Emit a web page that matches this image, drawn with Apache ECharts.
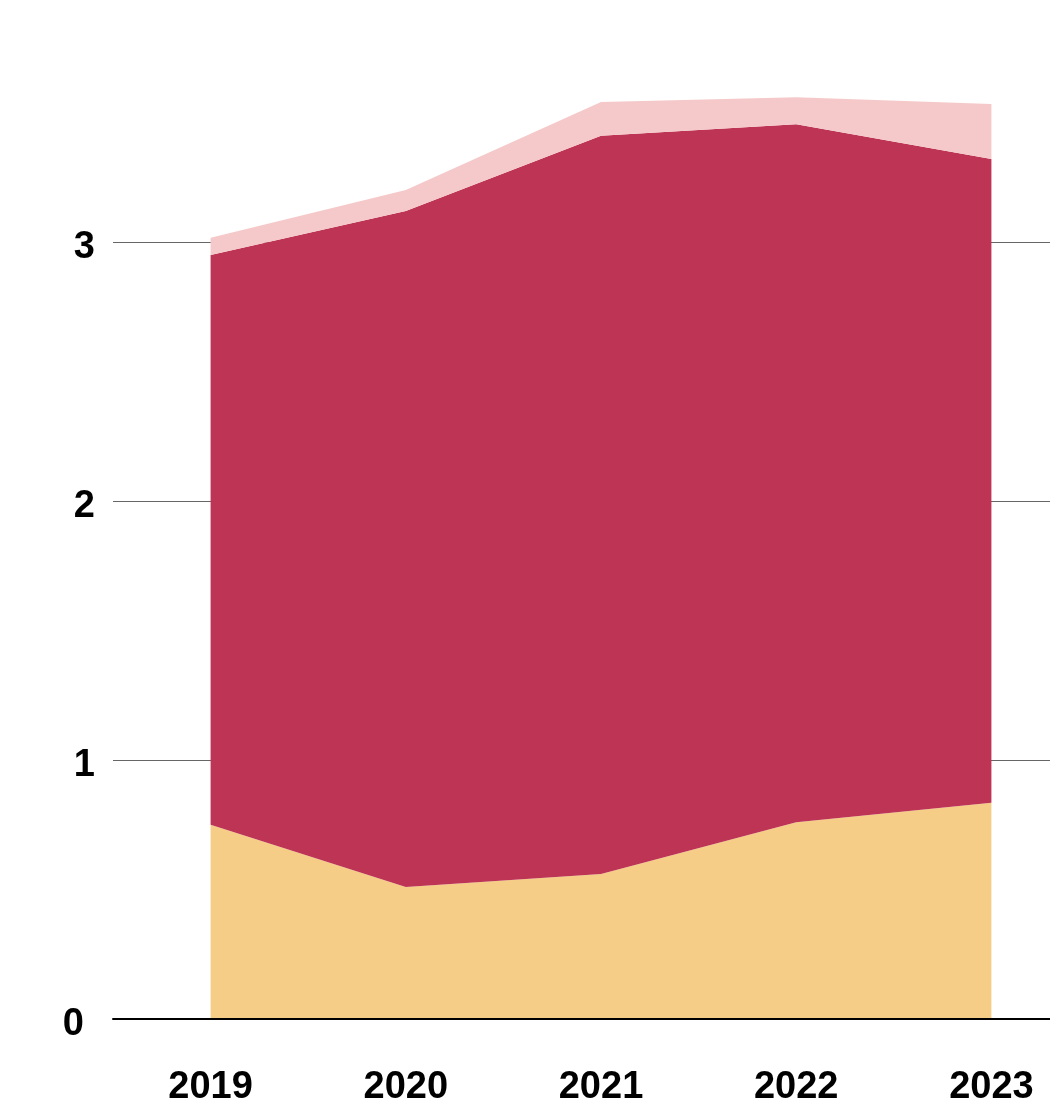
<!DOCTYPE html>
<html>
<head>
<meta charset="utf-8">
<script src="https://cdn.jsdelivr.net/npm/echarts@6/dist/echarts.min.js"></script>
<style>
html,body{margin:0;padding:0;background:#fff;width:1050px;height:1103px;overflow:hidden;position:relative;}
#chart{position:absolute;left:0;top:-17px;width:1089px;height:1124px;}
</style>
</head>
<body>
<div id="chart"></div>
<script>
const years = ['2019', '2020', '2021', '2022', '2023'];
const yellowValues = [0.75, 0.51, 0.56, 0.76, 0.835];
const redValues = [2.20, 2.61, 2.85, 2.695, 2.485];
const pinkValues = [0.066, 0.081, 0.131, 0.104, 0.213];

const chart = echarts.init(document.getElementById('chart'), null, {renderer: 'canvas'});

function areaSeries(name, vals, color) {
  return {
    name: name,
    type: 'line',
    stack: 'total',
    data: vals,
    symbol: 'none',
    showSymbol: false,
    lineStyle: {width: 0, color: color},
    areaStyle: {color: color, opacity: 1},
    itemStyle: {color: color},
    emphasis: {disabled: true},
    silent: true,
    z: 2
  };
}

chart.setOption({
  animation: false,
  backgroundColor: '#ffffff',
  grid: {left: 113, right: 0, top: 0, bottom: 85, containLabel: false},
  xAxis: {
    type: 'category',
    data: years,
    boundaryGap: true,
    axisLine: {show: true, onZero: false, lineStyle: {color: '#000', width: 2}},
    axisTick: {show: false},
    splitLine: {show: false},
    axisLabel: {
      margin: 50,
      color: '#000',
      fontFamily: 'Liberation Sans',
      fontWeight: 'bold',
      fontSize: 38
    },
    z: 5
  },
  yAxis: {
    type: 'value',
    min: 0,
    max: 4,
    interval: 1,
    axisLine: {show: false},
    axisTick: {show: false},
    splitLine: {show: true, lineStyle: {color: '#666', width: 1}},
    axisLabel: {
      margin: 18,
      color: '#000',
      fontFamily: 'Liberation Sans',
      fontWeight: 'bold',
      fontSize: 38,
      formatter: v => v === 0 ? '{z|0}' : (v > 3 ? '' : '{n|' + v + '}'),
      rich: {
        z: {
          padding: [12, 11, 0, 0],
          color: '#000',
          fontFamily: 'Liberation Sans',
          fontWeight: 'bold',
          fontSize: 38
        },
        n: {
          padding: [12, 0, 0, 0],
          color: '#000',
          fontFamily: 'Liberation Sans',
          fontWeight: 'bold',
          fontSize: 38
        }
      }
    }
  },
  series: [
    areaSeries('yellow', yellowValues, '#F5CD87'),
    areaSeries('red', redValues, '#BD3455'),
    areaSeries('pink', pinkValues, '#F5C9C9')
  ]
});
</script>
</body>
</html>
